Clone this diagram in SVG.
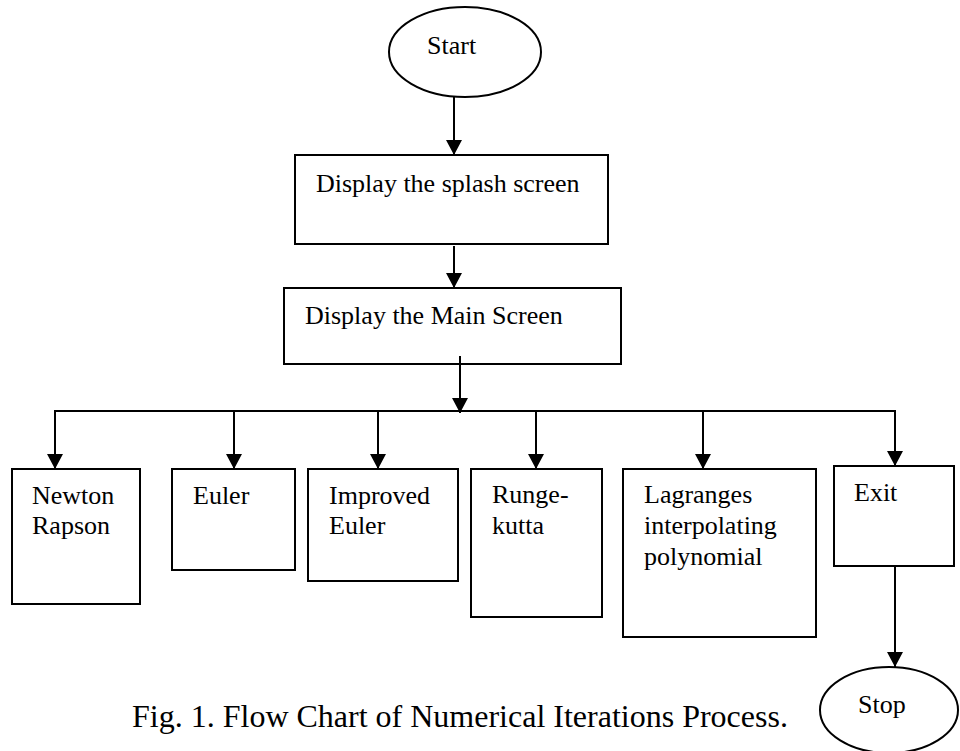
<svg xmlns="http://www.w3.org/2000/svg" width="960" height="751" viewBox="0 0 960 751">
<style>
.s{fill:#fff;stroke:#000;stroke-width:2}
.c{fill:none;stroke:#000;stroke-width:2}
text{font-family:"Liberation Serif","Times New Roman",serif;font-size:26px;fill:#000}
.cap{font-size:32px}
</style>
<defs>
<marker id="ah" markerUnits="userSpaceOnUse" markerWidth="16" markerHeight="16" viewBox="0 0 16 16" refX="15" refY="8" orient="auto">
<path d="M0,0 L15,8 L0,16 Z" fill="#000"/>
</marker>
</defs>
<rect width="960" height="751" fill="#fff"/>
<g id="start"><ellipse class="s" cx="465" cy="52" rx="76" ry="45"/><text x="427" y="54">Start</text></g>
<g id="splash"><rect class="s" x="295" y="155" width="313" height="89"/><text x="316" y="192">Display the splash screen</text></g>
<g id="main"><rect class="s" x="284" y="288" width="337" height="76"/><text x="305" y="324">Display the Main Screen</text></g>
<g id="newton"><rect class="s" x="12" y="469" width="128" height="135"/><text x="32" y="504">Newton</text><text x="32" y="534">Rapson</text></g>
<g id="euler"><rect class="s" x="172" y="469" width="123" height="101"/><text x="193" y="504">Euler</text></g>
<g id="improved"><rect class="s" x="308" y="469" width="150" height="112"/><text x="329" y="504">Improved</text><text x="329" y="534">Euler</text></g>
<g id="runge"><rect class="s" x="471" y="469" width="131" height="148"/><text x="492" y="503">Runge-</text><text x="492" y="534">kutta</text></g>
<g id="lagrange"><rect class="s" x="623" y="469" width="193" height="168"/><text x="644" y="503">Lagranges</text><text x="644" y="534">interpolating</text><text x="644" y="565">polynomial</text></g>
<g id="exit"><rect class="s" x="834" y="466" width="120" height="100"/><text x="854" y="501">Exit</text></g>
<g id="stop"><ellipse class="s" cx="889" cy="710" rx="69" ry="43"/><text x="858" y="713">Stop</text></g>
<g id="connectors">
<line class="c" x1="454" y1="97" x2="454" y2="155" marker-end="url(#ah)"/>
<line class="c" x1="454" y1="246" x2="454" y2="288" marker-end="url(#ah)"/>
<line class="c" x1="460" y1="356" x2="460" y2="413" marker-end="url(#ah)"/>
<line class="c" x1="55" y1="411" x2="896" y2="411"/>
<line class="c" x1="55" y1="410" x2="55" y2="469" marker-end="url(#ah)"/>
<line class="c" x1="234" y1="411" x2="234" y2="469" marker-end="url(#ah)"/>
<line class="c" x1="378" y1="411" x2="378" y2="469" marker-end="url(#ah)"/>
<line class="c" x1="536" y1="412" x2="536" y2="469" marker-end="url(#ah)"/>
<line class="c" x1="703" y1="412" x2="703" y2="469" marker-end="url(#ah)"/>
<line class="c" x1="895" y1="410" x2="895" y2="466" marker-end="url(#ah)"/>
<line class="c" x1="895" y1="566" x2="895" y2="667" marker-end="url(#ah)"/>
</g>
<text class="cap" x="132" y="727">Fig. 1. Flow Chart of Numerical Iterations Process.</text>
</svg>
